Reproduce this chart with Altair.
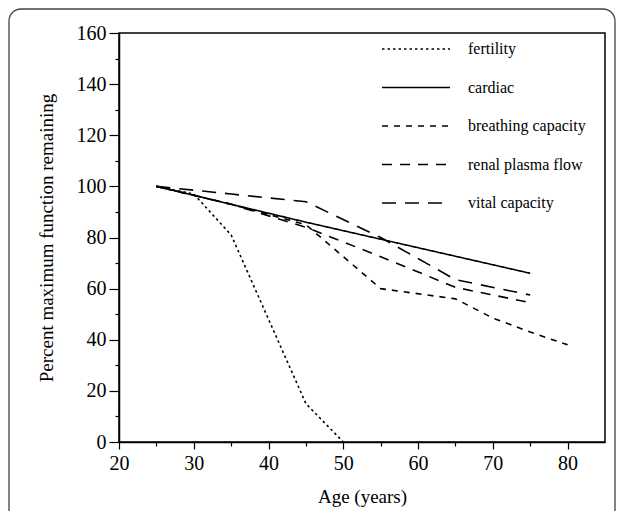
import altair as alt
import pandas as pd

# ---- data ----
series_order = ["fertility", "cardiac", "breathing capacity", "renal plasma flow", "vital capacity"]

fertility_age = [25, 30, 35, 40, 45, 50]
fertility_val = [100, 97, 81, 48, 15, 0]

cardiac_age = [25, 45, 75]
cardiac_val = [100, 86, 66]

breathing_age = [25, 35, 45, 55, 65, 70, 75, 80]
breathing_val = [100, 93, 85, 60, 56, 48.5, 43, 38]

renal_age = [25, 35, 45, 55, 65, 75]
renal_val = [100, 93, 84, 72.5, 60.5, 54.5]

vital_age = [25, 35, 45, 55, 65, 75]
vital_val = [100, 97, 94, 80, 63.5, 57.5]

x_ticks = [20, 25, 30, 35, 40, 45, 50, 55, 60, 65, 70, 75, 80]
y_ticks = [0, 10, 20, 30, 40, 50, 60, 70, 80, 90, 100, 110, 120, 130, 140, 150, 160]

dash_patterns = [[2.5, 3], [1, 0], [6, 6], [10, 8], [14, 9]]

rows = []
for name, ages, vals in [
    ("fertility", fertility_age, fertility_val),
    ("cardiac", cardiac_age, cardiac_val),
    ("breathing capacity", breathing_age, breathing_val),
    ("renal plasma flow", renal_age, renal_val),
    ("vital capacity", vital_age, vital_val),
]:
    for a, v in zip(ages, vals):
        rows.append({"series": name, "age": a, "value": v})
df = pd.DataFrame(rows)

FONT = "Liberation Serif"

lines = alt.Chart(df).mark_line(color="black", strokeWidth=1.6, strokeCap="butt").encode(
    x=alt.X(
        "age:Q",
        scale=alt.Scale(domain=[20, 85], nice=False, zero=False),
        axis=alt.Axis(
            values=x_ticks,
            labelExpr="datum.value % 10 === 0 ? datum.label : ''",
            tickSize={"condition": {"test": "datum.value % 10 === 0", "value": 7}, "value": 4},
            labelFlush=False,
            labelPadding=4,
            title="Age (years)",
            titlePadding=14,
        ),
    ),
    y=alt.Y(
        "value:Q",
        scale=alt.Scale(domain=[0, 160], nice=False),
        axis=alt.Axis(
            values=y_ticks,
            labelExpr="datum.value % 20 === 0 ? datum.label : ''",
            tickSize={"condition": {"test": "datum.value % 20 === 0", "value": 10}, "value": 4},
            labelPadding=3,
            title="Percent maximum function remaining",
            titlePadding=20,
        ),
    ),
    strokeDash=alt.StrokeDash(
        "series:N",
        scale=alt.Scale(domain=series_order, range=dash_patterns),
        legend=alt.Legend(
            title=None,
            orient="none",
            legendX=262,
            legendY=6,
            symbolType="stroke",
            symbolSize=4624,
            symbolStrokeWidth=1.6,
            symbolStrokeColor="black",
            clipHeight=20,
            rowPadding=18.5,
            labelOffset=17,
            labelFont=FONT,
            labelFontSize=16,
            labelColor="black",
            padding=0,
        ),
    ),
    order=alt.Order("age:Q"),
)

frame = alt.Chart(alt.Data(values=[{}])).mark_rect(
    fill=None, fillOpacity=0, stroke="#444", strokeWidth=1.3, cornerRadius=12, clip=False
).encode(
    x=alt.value(-110), x2=alt.value(496), y=alt.value(-24), y2=alt.value(520)
)

chart = alt.layer(frame, lines).properties(
    width=486,
    height=409,
    autosize=alt.AutoSizeParams(type="none"),
    padding={"left": 111, "top": 25, "right": 12, "bottom": 69},
).configure_view(
    stroke="black", strokeWidth=1.5
).configure_axis(
    domainColor="black",
    domainWidth=1.5,
    tickColor="black",
    tickWidth=1.2,
    grid=False,
    labelFont=FONT,
    labelFontSize=20,
    labelColor="black",
    titleFont=FONT,
    titleFontSize=19,
    titleFontWeight="normal",
    titleColor="black",
)

chart.save("out.html", embed_options={"renderer": "svg", "actions": False})
